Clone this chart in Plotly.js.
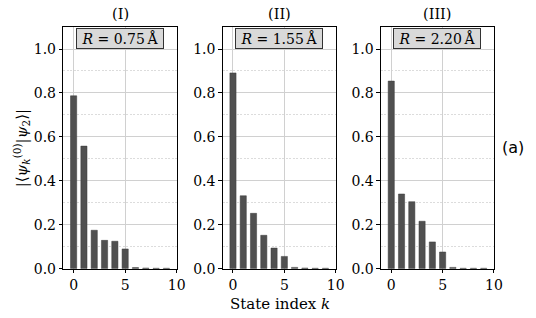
<!DOCTYPE html>
<html><head><meta charset="utf-8">
<script src="https://cdn.plot.ly/plotly-3.0.1.min.js"></script>
<style>body{margin:0;background:#fff}#c{width:536px;height:318px}</style>
</head><body><div id="c"></div>
<script>
const stateIndex = [0,1,2,3,4,5,6,7,8,9];
const overlapI   = [0.787,0.558,0.175,0.129,0.125,0.090,0.005,0.003,0.002,0.002];
const overlapII  = [0.891,0.332,0.252,0.152,0.094,0.056,0.006,0.003,0.002,0.002];
const overlapIII = [0.854,0.340,0.305,0.216,0.122,0.076,0.006,0.002,0.002,0.002];
const panelTitles = ['(I)','(II)','(III)'];
const radii = ['0.75','1.55','2.20'];
const xTicks = [0,5,10];
const yTicks = [0,0.2,0.4,0.6,0.8,1.0];

const series = [overlapI, overlapII, overlapIII];
const xDomains = [[0.1181,0.3297],[0.4155,0.6263],[0.7108,0.9216]];
const yDomain = [0.155,0.915];
const serif = 'DejaVu Serif, serif';

const traces = series.map((vals,i)=>({
  type:'bar', x:stateIndex, y:vals, width:0.6,
  marker:{color:'#505050', line:{color:'#3a3a3a', width:0.5}},
  xaxis: i===0?'x':'x'+(i+1), yaxis: i===0?'y':'y'+(i+1),
  showlegend:false, hoverinfo:'skip'
}));

const layout = {
  width:536, height:318,
  margin:{l:0,r:0,t:0,b:0},
  paper_bgcolor:'#fff', plot_bgcolor:'#fff',
  font:{family:serif, size:14, color:'#000'},
  bargap:0,
  annotations:[], shapes:[]
};

for(let i=0;i<3;i++){
  const s = i===0?'':String(i+1);
  layout['xaxis'+s] = {
    domain:xDomains[i], range:[-1,10], anchor:'y'+s,
    tickvals:xTicks, ticktext:xTicks.map(String),
    ticks:'outside', ticklen:3.5, tickwidth:1, tickcolor:'#000',
    showline:true, linecolor:'#000', linewidth:1, mirror:true,
    showgrid:true, gridcolor:'#d0d0d0', gridwidth:1,
    zeroline:false, tickfont:{family:serif,size:14}
  };
  layout['yaxis'+s] = {
    domain:yDomain, range:[0,1.1], anchor:'x'+s,
    tickvals:yTicks, ticktext:yTicks.map(v=>v.toFixed(1)),
    ticks:'outside', ticklen:3.5, tickwidth:1, tickcolor:'#000',
    showline:true, linecolor:'#000', linewidth:1, mirror:true,
    showgrid:true, gridcolor:'#d0d0d0', gridwidth:1,
    minor:{dtick:0.1, tick0:0.1, showgrid:true, gridcolor:'#c4c4c4', griddash:'2px,1.5px', gridwidth:0.6, ticklen:0},
    zeroline:false, tickfont:{family:serif,size:14}
  };
  const cx = (xDomains[i][0]+xDomains[i][1])/2;
  layout.annotations.push({
    xref:'paper', yref:'paper', x:cx, y:yDomain[1]+0.008, yanchor:'bottom', xanchor:'center',
    text:panelTitles[i], showarrow:false, font:{family:serif,size:14.5}
  });
  layout.annotations.push({
    xref:'paper', yref:'paper', x:cx, y:yDomain[1]-0.003, yanchor:'top', xanchor:'center',
    text:' <i>R</i> = '+radii[i]+'\u2009Å ', showarrow:false, font:{family:serif,size:14},
    bgcolor:'#d9d9d9', bordercolor:'#333', borderwidth:1, borderpad:1
  });
}
layout.annotations.push({
  xref:'paper', yref:'paper', x:0.522, y:0.01, xanchor:'center', yanchor:'bottom',
  text:'State index <i>k</i>', showarrow:false, font:{family:serif,size:15}
});
layout.annotations.push({
  xref:'paper', yref:'paper', x:0.04, y:0.535, xanchor:'center', yanchor:'middle', textangle:-90,
  text:'|⟨<i>ψ</i><sub><i>k</i></sub><sup>(0)</sup>|<i>ψ</i><sub>2</sub>⟩|', showarrow:false, font:{family:serif,size:15}
});
layout.annotations.push({
  xref:'paper', yref:'paper', x:0.958, y:0.537, xanchor:'center', yanchor:'middle',
  text:'(a)', showarrow:false, font:{family:'DejaVu Sans, sans-serif',size:16}
});

Plotly.newPlot('c', traces, layout, {staticPlot:true, displayModeBar:false});
</script></body></html>
